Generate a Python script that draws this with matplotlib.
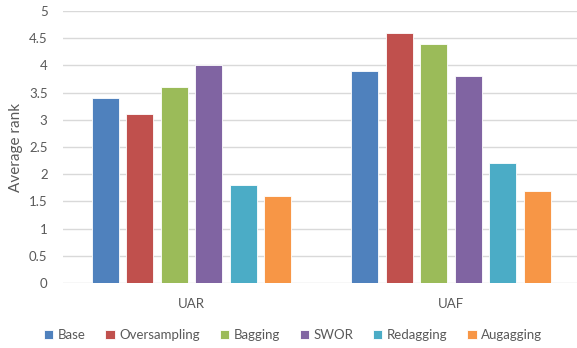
import numpy as np
import matplotlib.pyplot as plt

# Average rank of each method on the two metrics
groups = ["UAR", "UAF"]
methods = ["Base", "Oversampling", "Bagging", "SWOR", "Redagging", "Augagging"]
uar_rank = [3.4, 3.1, 3.6, 4.0, 1.8, 1.6]
uaf_rank = [3.9, 4.6, 4.4, 3.8, 2.2, 1.7]
colors = ["#4F81BD", "#C0504D", "#9BBB59", "#8064A2", "#4BACC6", "#F79646"]

plt.rcParams['font.family'] = ['Lato', 'DejaVu Sans']
text_grey = "#595959"

fig = plt.figure(figsize=(5.77, 3.48), dpi=100)
ax = fig.add_axes([0.109, 0.187, 0.891, 0.781])

x = np.arange(len(groups))
pitch = 0.133
width = 0.104
for i, (name, c) in enumerate(zip(methods, colors)):
    vals = [uar_rank[i], uaf_rank[i]]
    offset = (i - (len(methods) - 1) / 2) * pitch
    ax.bar(x + offset, vals, width, color=c, label=name,
           edgecolor="white", linewidth=0.6, zorder=3)

ax.set_xlim(-0.495, 1.486)
ax.set_ylim(0, 5)
ax.set_yticks(np.arange(0, 5.01, 0.5))
ax.set_yticklabels(["0", "0.5", "1", "1.5", "2", "2.5", "3", "3.5", "4", "4.5", "5"])
ax.set_xticks(x)
ax.set_xticklabels(groups)
ax.grid(axis="y", color="#d9d9d9", linewidth=1, zorder=0)
ax.set_axisbelow(True)
for s in ax.spines.values():
    s.set_visible(False)
ax.tick_params(axis="both", length=0, labelsize=9.5, colors=text_grey)
ax.tick_params(axis="x", pad=11)
ax.tick_params(axis="y", pad=11)
ax.set_ylabel("Average rank", fontsize=11, color=text_grey, labelpad=4)

fig.legend(loc="center", bbox_to_anchor=(0.508, 0.037), ncol=6, frameon=False,
           fontsize=9.5, labelcolor=text_grey, handlelength=0.7, handleheight=0.7,
           handletextpad=0.35, columnspacing=1.5)

fig.savefig("out.png", dpi=100)
